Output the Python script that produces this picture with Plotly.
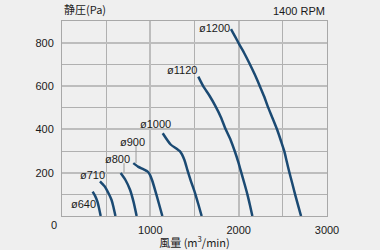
import plotly.graph_objects as go

# ---- data ----
sizes = ["ø640", "ø710", "ø800", "ø900", "ø1000", "ø1120", "ø1200"]

flow_640 = [347, 372, 400, 420, 438]
pres_640 = [113, 95, 67, 35, 0]
flow_710 = [430, 480, 525, 560, 581, 605]
pres_710 = [160, 138, 106, 75, 44, 0]
flow_800 = [664, 720, 770, 810, 845]
pres_800 = [198, 165, 121, 65, 0]
flow_900 = [807, 860, 920, 970, 996, 1020, 1053, 1095, 1136]
pres_900 = [244, 228, 216, 205, 190, 165, 121, 60, 0]
flow_1000 = [1140, 1230, 1336, 1385, 1419, 1460, 1506, 1545, 1581]
pres_1000 = [382, 330, 298, 260, 213, 160, 106, 52, 0]
flow_1120 = [1543, 1600, 1670, 1740, 1800, 1853, 1910, 1955, 1995, 2030, 2065, 2098, 2128, 2155]
pres_1120 = [643, 598, 555, 505, 455, 400, 350, 300, 250, 200, 150, 101, 50, 0]
flow_1200 = [1913, 1960, 2010, 2065, 2120, 2180, 2242, 2290, 2330, 2385, 2437, 2480, 2517,
             2545, 2573, 2607, 2638, 2672, 2706]
pres_1200 = [862, 828, 790, 750, 706, 655, 597, 550, 505, 450, 397, 345, 298,
             250, 203, 150, 101, 50, 0]

curves_x = [flow_640, flow_710, flow_800, flow_900, flow_1000, flow_1120, flow_1200]
curves_y = [pres_640, pres_710, pres_800, pres_900, pres_1000, pres_1120, pres_1200]

# label anchor positions (data units)
label_x = [241, 342, 625, 798, 1064, 1353, 1726]
label_y = [57, 187, 264, 341, 425, 674, 866]

# leader lines for ø800 and ø900 (data units)
leader_x = [702, 838]
leader_y0 = [244, 324]
leader_y1 = [201, 244]

x_ticks = [1000, 2000, 3000]
y_ticks = [200, 400, 600, 800]

curve_color = "#1b4a73"
font_family = "Liberation Sans, Arial, sans-serif"
cjk_family = "Noto Sans CJK JP, Liberation Sans, sans-serif"

fig = go.Figure()
for cx, cy, name in zip(curves_x, curves_y, sizes):
    fig.add_trace(go.Scatter(x=cx, y=cy, mode="lines", name=name,
                             line=dict(color=curve_color, width=2.5, shape="spline", smoothing=0.6),
                             hoverinfo="skip", showlegend=False))

for name, lx, ly in zip(sizes, label_x, label_y):
    fig.add_annotation(x=lx, y=ly, text=name, showarrow=False, xref="x", yref="y",
                       font=dict(size=11, color="#1a1a1a", family=font_family))

for lx, y0, y1 in zip(leader_x, leader_y0, leader_y1):
    fig.add_shape(type="line", xref="x", yref="y", x0=lx, x1=lx, y0=y0, y1=y1,
                  line=dict(color="#9a9a9a", width=1))

# titles / corner labels
fig.add_annotation(x=0, y=1.0, xref="paper", yref="paper", xanchor="left", yanchor="bottom",
                   yshift=2, text="静圧(Pa)", showarrow=False,
                   font=dict(size=11, color="#1a1a1a", family=cjk_family))
fig.add_annotation(x=1.0, y=1.0, xref="paper", yref="paper", xanchor="right", yanchor="bottom",
                   yshift=2, text="1400 RPM", showarrow=False,
                   font=dict(size=11, color="#1a1a1a", family=font_family))
fig.add_annotation(x=0, y=0, xref="paper", yref="paper", xanchor="center", yanchor="middle",
                   xshift=-8, yshift=-9, text="0", showarrow=False,
                   font=dict(size=11, color="#1a1a1a", family=font_family))

axis_common = dict(showline=True, linecolor="#a8a8a8", linewidth=1, mirror=True,
                   ticks="", zeroline=False, fixedrange=True, automargin=False,
                   tickfont=dict(size=11, color="#1a1a1a", family=font_family))

fig.update_xaxes(range=[0, 3000], tickmode="array", tickvals=x_ticks,
                 gridcolor="#bdbdbd", gridwidth=2, ticklabelstandoff=4,
                 title=dict(text="風量 (m<sup>3</sup>/min)", standoff=4,
                            font=dict(size=11, color="#1a1a1a", family=cjk_family)),
                 minor=dict(dtick=500, tick0=0, showgrid=True, gridcolor="#b0b0b0", gridwidth=1),
                 **axis_common)
fig.update_yaxes(range=[0, 900], tickmode="array", tickvals=y_ticks,
                 gridcolor="#bdbdbd", gridwidth=2, ticklabelstandoff=5,
                 minor=dict(dtick=100, tick0=0, showgrid=True, gridcolor="#b0b0b0", gridwidth=1),
                 **axis_common)

fig.update_layout(width=380, height=250,
                  margin=dict(l=62, r=53, t=21, b=34, pad=0),
                  paper_bgcolor="#efefef", plot_bgcolor="#efefef",
                  showlegend=False)

fig.write_html("out.html", config={"displayModeBar": False})
